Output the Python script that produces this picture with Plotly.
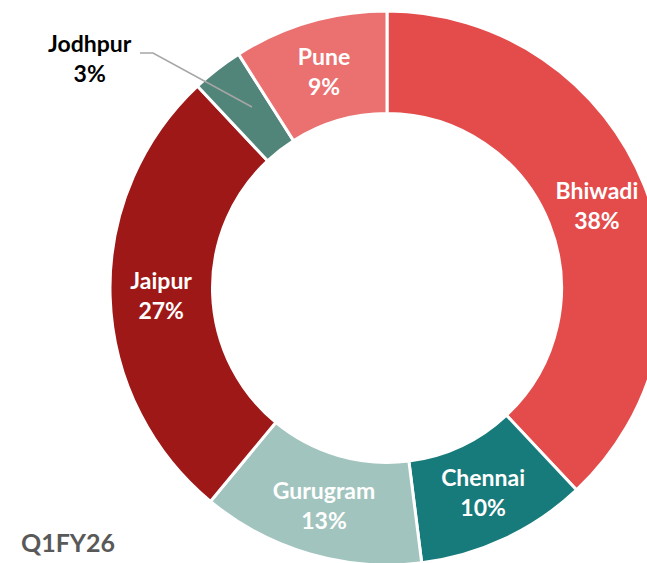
import plotly.graph_objects as go

cities = ["Bhiwadi", "Chennai", "Gurugram", "Jaipur", "Jodhpur", "Pune"]
shares = [38, 10, 13, 27, 3, 9]
colors = ["#E44B4B", "#177A7B", "#A2C4BE", "#9E1818", "#52857A", "#EB7070"]
period_label = "Q1FY26"

W, H = 680, 570

texts = [f"{c}<br>{v}%" if c != "Jodhpur" else "" for c, v in zip(cities, shares)]

fig = go.Figure(go.Pie(
    labels=cities,
    values=shares,
    text=texts,
    textinfo="text",
    textposition="inside",
    insidetextorientation="horizontal",
    sort=False,
    direction="clockwise",
    rotation=0,
    hole=0.63,
    marker=dict(colors=colors, line=dict(color="white", width=3)),
    textfont=dict(family="Lato", size=23, color="white", weight="bold"),
    domain=dict(x=[110 / W, 664 / W], y=[1 - 565 / H, 1 - 11 / H]),
    showlegend=False,
    hoverinfo="label+percent",
))

# Jodhpur outside label with leader line
fig.add_annotation(
    x=90 / W, y=1 - 58 / H, xref="paper", yref="paper",
    text=f"<b>Jodhpur</b><br><b>{shares[4]}%</b>",
    showarrow=False, xanchor="center", yanchor="middle",
    font=dict(family="Lato", size=23, color="black"),
)
fig.add_shape(
    type="path", xref="paper", yref="paper",
    path=f"M {140/W},{1-53/H} L {153/W},{1-53/H} L {252/W},{1-107/H}",
    line=dict(color="#A6A6A6", width=1.5),
)

fig.add_annotation(
    x=19 / W, y=1 - 542 / H, xref="paper", yref="paper",
    text=f"<b>{period_label}</b>",
    showarrow=False, xanchor="left", yanchor="middle",
    font=dict(family="Lato", size=25, color="#595959"),
)

fig.update_layout(
    width=W, height=H,
    margin=dict(l=0, r=0, t=0, b=0),
    paper_bgcolor="white",
    plot_bgcolor="white",
    uniformtext=dict(minsize=23, mode="show"),
)

fig.write_html(
    "out.html",
    config={"displayModeBar": False},
    post_script="document.body.style.margin='0';document.body.style.overflow='hidden';document.documentElement.style.overflow='hidden';",
)
